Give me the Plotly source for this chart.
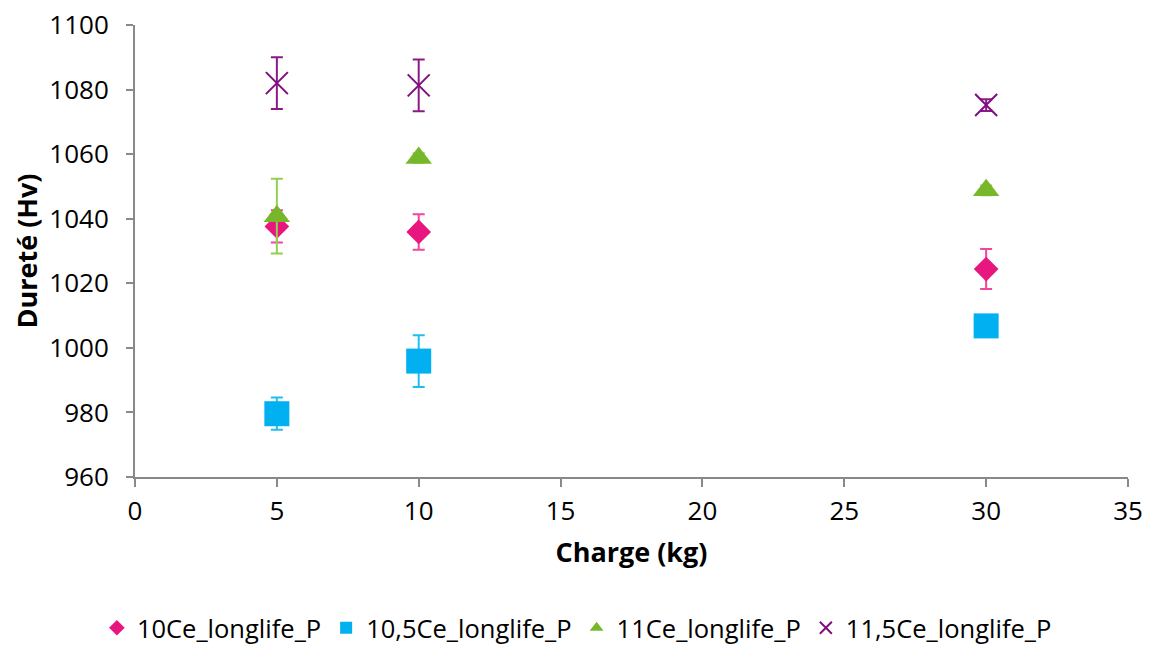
import plotly.graph_objects as go

charge = [5, 10, 30]
names = ["10Ce_longlife_P", "10,5Ce_longlife_P", "11Ce_longlife_P", "11,5Ce_longlife_P"]
durete = [
    [1037.6, 1035.9, 1024.4],
    [979.6, 995.9, 1006.8],
    [1040.8, 1058.8, 1048.8],
    [1082.0, 1081.3, 1075.2],
]
erreur = [
    [5.0, 5.5, 6.2],
    [5.0, 8.0, 3.0],
    [11.6, 1.5, 1.5],
    [8.0, 8.0, 1.8],
]
colors = ["#E8177F", "#00B0F0", "#76B82A", "#7F0F7E"]
err_colors = ["#F0469B", "#20BEF0", "#92D050", "#8A1A88"]
symbols = ["diamond", "square", "triangle-up", "x-thin"]
sizes = [19, 25, 23, 22]

FONT = "Open Sans"

fig = go.Figure()
for i in range(4):
    marker = dict(symbol=symbols[i], size=sizes[i], color=colors[i])
    if symbols[i] == "x-thin":
        marker["line"] = dict(color=colors[i], width=2)
    else:
        marker["line"] = dict(color=colors[i], width=0)
    fig.add_trace(go.Scatter(
        x=charge, y=durete[i], mode="markers", name=names[i],
        marker=marker,
        error_y=dict(type="data", array=erreur[i], visible=True,
                     color=err_colors[i], thickness=2, width=6),
    ))

# page body has an 8px default margin, so the figure is 8px smaller
fig.update_layout(
    width=1142, height=638,
    paper_bgcolor="white", plot_bgcolor="white",
    margin=dict(l=127, r=22, t=17, b=169),
    font=dict(family=FONT, size=26, color="#000000"),
    showlegend=True,
    legend=dict(orientation="h", x=0.445, xanchor="center",
                yref="container", y=0.028, yanchor="middle",
                font=dict(family=FONT, size=25.5), itemwidth=30, tracegroupgap=0,
                itemsizing="constant"),
)
fig.update_xaxes(
    range=[0, 35], tick0=0, dtick=5, showgrid=False, zeroline=False,
    showline=True, linecolor="#898989", linewidth=2, automargin=False,
    ticks="outside", ticklen=8, tickcolor="#898989", tickwidth=2,
    ticklabelstandoff=2, ticklabeloverflow="allow",
    tickfont=dict(family=FONT, size=26),
    title=dict(text="<b>Charge (kg)</b>", font=dict(family=FONT, size=27), standoff=16),
)
fig.update_yaxes(
    range=[960, 1100], tick0=960, dtick=20, showgrid=False, zeroline=False,
    showline=True, linecolor="#898989", linewidth=2, automargin=False,
    ticks="outside", ticklen=7, tickcolor="#898989", tickwidth=2,
    ticklabelstandoff=12, ticklabeloverflow="allow",
    tickfont=dict(family=FONT, size=26),
    title=dict(text="<b>Dureté (Hv)</b>", font=dict(family=FONT, size=27), standoff=16),
)
fig.write_html("out.html")
